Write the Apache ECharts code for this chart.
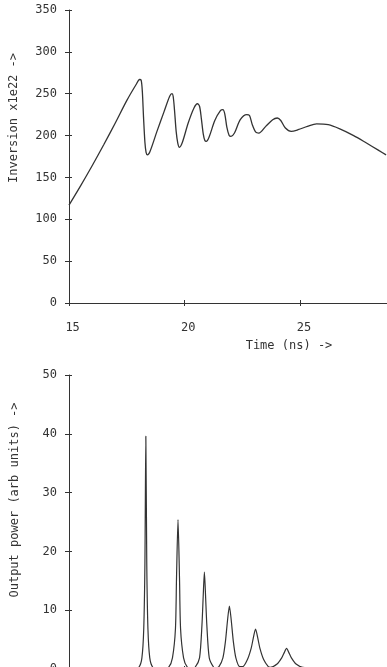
<!DOCTYPE html>
<html><head><meta charset="utf-8">
<script src="https://cdn.jsdelivr.net/npm/echarts@6/dist/echarts.min.js"></script>
<style>html,body{margin:0;padding:0;background:#fff;overflow:hidden;width:387px;height:667px}#c{width:430px;height:700px}</style>
</head><body><div id="c"></div>
<script>
// Top panel: inversion (x1e22) vs time (ns)
const invTime = [15.0,15.5,16.0,16.5,17.0,17.5,17.9,18.05,18.12,18.17,18.22,18.28,18.33,18.39,18.5,18.8,19.1,19.35,19.45,19.5,19.56,19.63,19.7,19.77,19.9,20.15,20.4,20.55,20.64,20.72,20.8,20.87,20.93,21.05,21.3,21.55,21.65,21.73,21.82,21.92,22.0,22.15,22.4,22.68,22.8,22.92,23.07,23.2,23.5,23.8,24.0,24.15,24.35,24.6,24.9,25.3,25.7,26.2,26.7,27.3,27.8,28.4,28.7];
const invValue = [117,140,164,189,215,242,261,267,266,252,222,192,180,177,181,205,228,247,250,247,230,205,191,186,192,215,233,238,235,220,202,194,193,198,218,230,231,226,210,200,199,203,219,225,224,213,204,203,211,219,221,218,209,205,207,211,214,213,208,200,192,182,177];
// Bottom panel: output power (arb units) vs time (ns)
const powTime = [15.0,17.8,18.02,18.15,18.23,18.28,18.32,18.36,18.41,18.49,18.62,18.85,19.1,19.31,19.47,19.6,19.645,19.71,19.775,19.82,19.95,20.11,20.3,20.45,20.64,20.745,20.8,20.85,20.9,20.955,21.06,21.25,21.35,21.48,21.65,21.76,21.85,21.93,22.01,22.1,22.21,22.38,22.51,22.71,22.87,22.96,23.06,23.16,23.25,23.41,23.61,23.7,23.99,24.19,24.29,24.40,24.51,24.61,24.81,25.1,26.0,28.7];
const powValue = [0,0,0.3,1.9,6.9,18,39.6,18,6.9,1.9,0.3,0,0.05,0.3,1.9,6.9,15.4,25.4,15.4,6.9,1.9,0.3,0.1,0.3,1.9,7.5,12.5,16.5,12.5,7.5,1.9,0.3,0.2,0.4,1.9,4.7,8.3,10.7,8.3,4.7,1.9,0.4,0.4,1.6,3.5,5.2,6.8,5.2,3.5,1.6,0.4,0.3,0.85,1.9,2.7,3.5,2.7,1.9,0.85,0.3,0.1,0.1];
const timeAxis = {min: 15, max: 30, interval: 5};
const invAxis = {min: 0, max: 350, interval: 50};
const powAxis = {min: 0, max: 50, interval: 10};

const zip = (a, b) => a.map((x, i) => [x, b[i]]);
const ink = '#333';
const font = 'DejaVu Sans Mono';
const lbl = {color: ink, fontFamily: font, fontSize: 12};

function xAxes(gi) {
  return [
    {type: 'value', gridIndex: gi, position: 'bottom', min: timeAxis.min, max: timeAxis.max, interval: timeAxis.interval,
     axisLine: {lineStyle: {color: ink, width: 1}}, axisTick: {show: true, length: 3, lineStyle: {color: ink}},
     axisLabel: Object.assign({margin: 19, formatter: v => ' ' + v}, lbl),
     splitLine: {show: false}},
    {type: 'value', gridIndex: gi, position: 'bottom', min: timeAxis.min, max: timeAxis.max, interval: timeAxis.interval,
     axisLine: {show: false}, axisTick: {show: true, inside: true, length: 3, lineStyle: {color: ink}},
     axisLabel: {show: false}, splitLine: {show: false}}
  ];
}
function yAxes(gi, ax) {
  return [
    {type: 'value', gridIndex: gi, position: 'left', min: ax.min, max: ax.max, interval: ax.interval,
     axisLine: {show: true, lineStyle: {color: ink, width: 1}}, axisTick: {show: true, length: 4, lineStyle: {color: ink}},
     axisLabel: Object.assign({margin: 12}, lbl), splitLine: {show: false}},
    {type: 'value', gridIndex: gi, position: 'left', min: ax.min, max: ax.max, interval: ax.interval,
     axisLine: {show: false}, axisTick: {show: true, inside: true, length: 3, lineStyle: {color: ink}},
     axisLabel: {show: false}, splitLine: {show: false}}
  ];
}

const chart = echarts.init(document.getElementById('c'), null, {renderer: 'canvas'});
chart.setOption({
  animation: false,
  backgroundColor: '#fff',
  grid: [
    {left: 69, width: 355.5, top: 10, height: 293},
    {left: 69, width: 355.5, top: 375, height: 296}
  ],
  xAxis: [...xAxes(0), ...xAxes(1)],
  yAxis: [...yAxes(0, invAxis), ...yAxes(1, powAxis)],
  series: [
    {type: 'line', xAxisIndex: 0, yAxisIndex: 0, data: zip(invTime, invValue), showSymbol: false, smooth: 0.3,
     lineStyle: {color: ink, width: 1.3}},
    {type: 'line', xAxisIndex: 2, yAxisIndex: 2, data: zip(powTime, powValue), showSymbol: false, smooth: 0.25,
     lineStyle: {color: ink, width: 1.2}}
  ],
  graphic: [
    {type: 'text', x: 289, y: 346, style: {text: 'Time (ns) ->', fill: ink, font: '12px "DejaVu Sans Mono"', textAlign: 'center', textVerticalAlign: 'middle'}},
    {type: 'text', x: 14, y: 118, rotation: Math.PI / 2, style: {text: 'Inversion x1e22 ->', fill: ink, font: '12px "DejaVu Sans Mono"', textAlign: 'center', textVerticalAlign: 'middle'}},
    {type: 'text', x: 15, y: 500, rotation: Math.PI / 2, style: {text: 'Output power (arb units) ->', fill: ink, font: '12px "DejaVu Sans Mono"', textAlign: 'center', textVerticalAlign: 'middle'}}
  ]
});
</script></body></html>
